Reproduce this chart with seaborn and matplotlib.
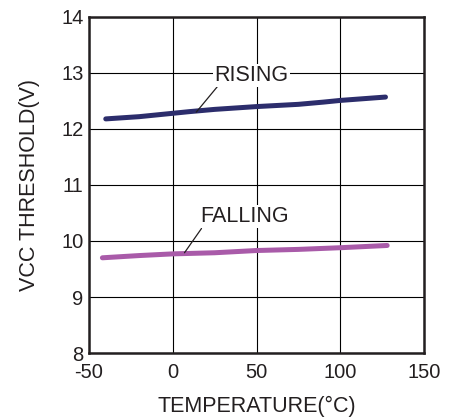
import matplotlib
matplotlib.use("Agg")
import matplotlib.pyplot as plt
import seaborn as sns
import pandas as pd

# values
temp_rising = [-40, -20, 0, 10, 25, 50, 75, 90, 100, 127]
vcc_rising = [12.18, 12.22, 12.28, 12.31, 12.35, 12.40, 12.44, 12.48, 12.51, 12.57]
temp_falling = [-42, -20, 0, 25, 50, 75, 100, 128]
vcc_falling = [9.70, 9.74, 9.77, 9.79, 9.83, 9.85, 9.88, 9.92]

df = pd.concat([
    pd.DataFrame({"temp": temp_rising, "vcc": vcc_rising, "edge": "RISING"}),
    pd.DataFrame({"temp": temp_falling, "vcc": vcc_falling, "edge": "FALLING"}),
])

sns.set_style("white")
plt.rcParams["font.family"] = ["Liberation Sans", "DejaVu Sans"]
plt.rcParams["axes.unicode_minus"] = False
txt = "#231f20"

fig = plt.figure(figsize=(4.53, 4.19), dpi=100)
ax = fig.add_axes([0.1965, 0.1575, 0.7395, 0.802])

sns.lineplot(data=df, x="temp", y="vcc", hue="edge", sort=True,
             palette={"RISING": "#2c2d6c", "FALLING": "#a95ba9"},
             linewidth=3.6, legend=False, ax=ax, zorder=3)

ax.set_xlim(-50, 150)
ax.set_ylim(8, 14)
ax.set_xticks([-50, 0, 50, 100, 150])
ax.set_yticks([8, 9, 10, 11, 12, 13, 14])
ax.grid(True, color="black", linewidth=0.8)
for s in ax.spines.values():
    s.set_color(txt)
    s.set_linewidth(1.8)
ax.tick_params(length=0, labelsize=14.5, colors=txt)
ax.tick_params(axis="x", pad=7)
ax.tick_params(axis="y", pad=4)
ax.set_xlabel("TEMPERATURE(°C)", fontsize=15.5, color=txt, labelpad=10)
ax.set_ylabel("VCC THRESHOLD(V)", fontsize=15.5, color=txt, labelpad=15)

ax.annotate("RISING", xy=(14, 12.30), xytext=(47, 12.96), fontsize=15.5,
            color=txt, ha="center", va="center",
            bbox=dict(boxstyle="square,pad=0.05", fc="white", ec="none"),
            arrowprops=dict(arrowstyle="-", color=txt, lw=0.9,
                            shrinkA=0, shrinkB=0, relpos=(0.05, 0.0)),
            zorder=4)
ax.annotate("FALLING", xy=(7, 9.79), xytext=(43, 10.43), fontsize=15.5,
            color=txt, ha="center", va="center",
            bbox=dict(boxstyle="square,pad=0.05", fc="white", ec="none"),
            arrowprops=dict(arrowstyle="-", color=txt, lw=0.9,
                            shrinkA=0, shrinkB=0, relpos=(0.02, 0.0)),
            zorder=4)

fig.savefig("out.png", dpi=100)
